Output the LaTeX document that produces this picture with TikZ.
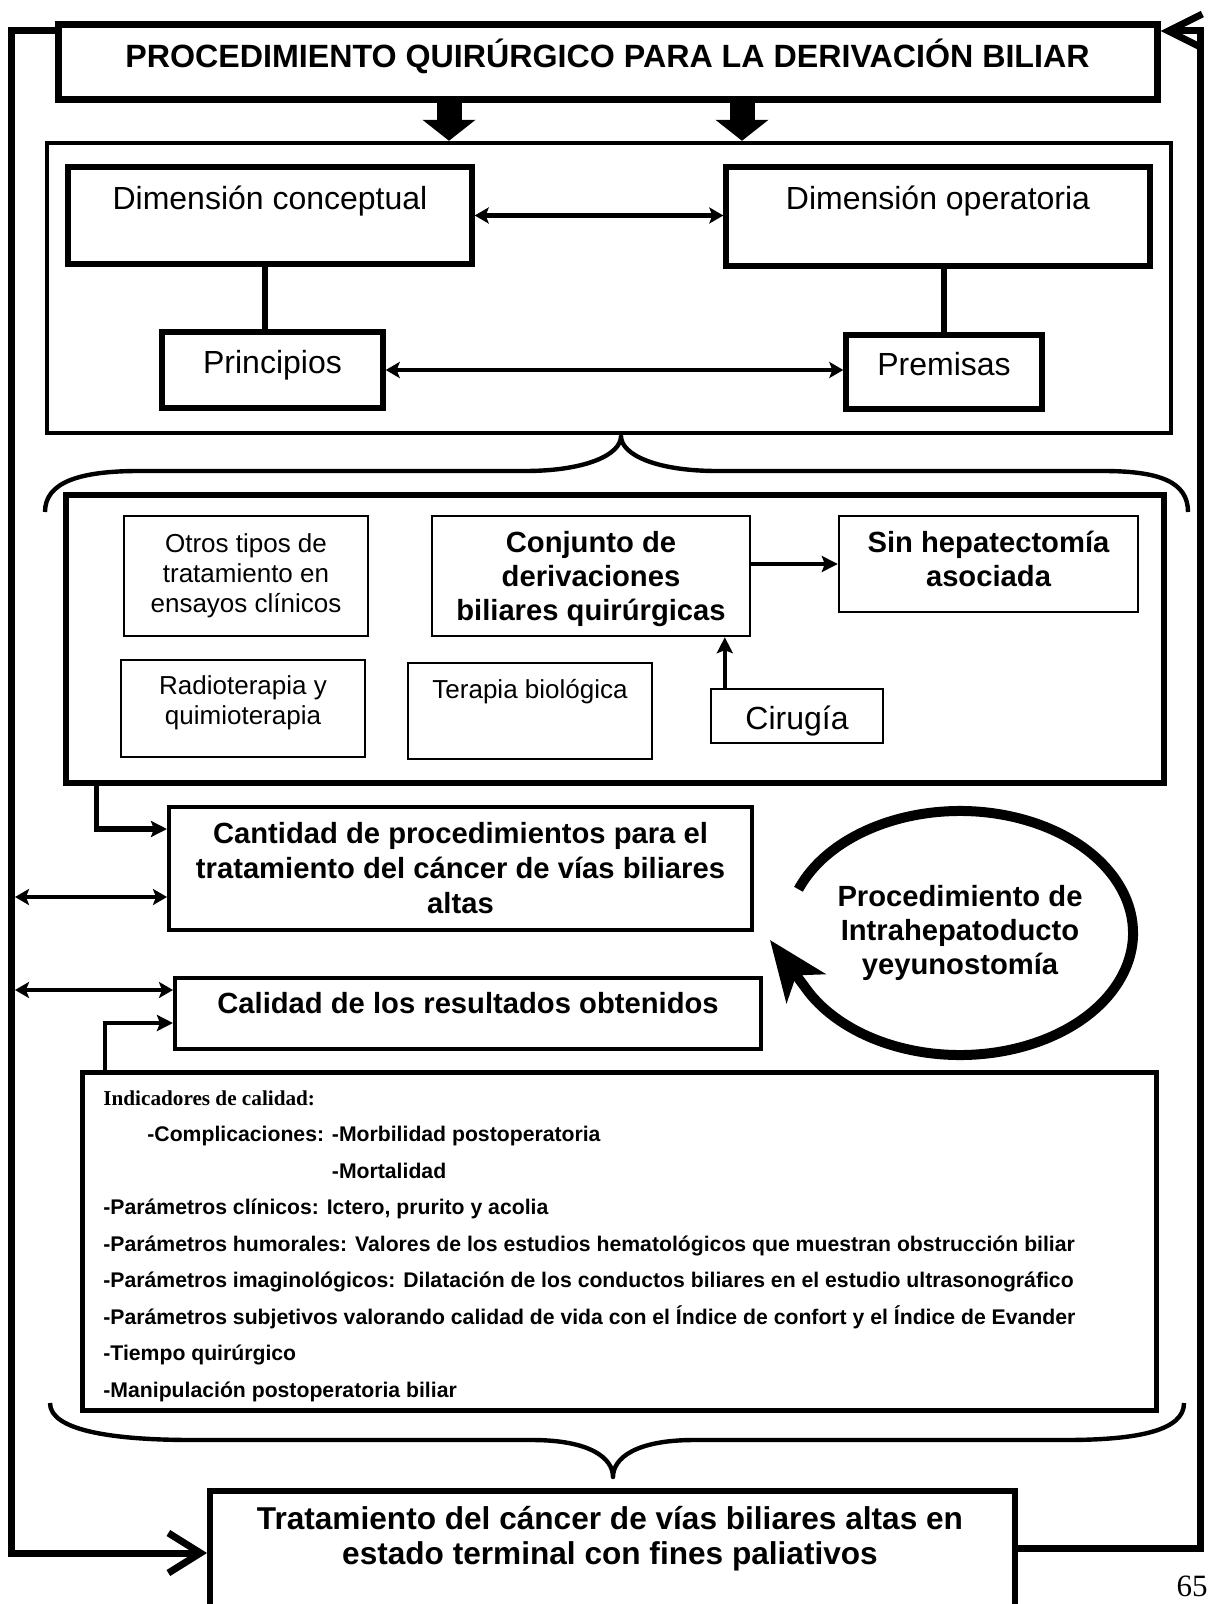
\documentclass[tikz,border=0pt]{standalone}
\usepackage{fontspec}
\setmainfont{Liberation Sans}
\newfontfamily\serifft{Liberation Serif}
\usetikzlibrary{arrows.meta, positioning, calc}

\begin{document}
\begin{tikzpicture}[
    x=0.5pt, y=-0.5pt,
    bx/.style={draw, line width=#1, inner sep=0pt, align=center},
    bx/.default=1pt,
    tbase/.style={text height=#1, text depth=0pt},
    tup/.style={text height=0pt, text depth=#1},
    titletxt/.style={font=\fontsize{16.1}{18}\selectfont\bfseries},
    bigtxt/.style={font=\fontsize{16}{19}\selectfont},
    plaintxt/.style={font=\fontsize{13}{15}\selectfont},
    boldtxt/.style={font=\fontsize{14.6}{#1}\selectfont\bfseries},
    boldtxt/.default=17,
    link/.style={line width=3pt},
    loopline/.style={line width=3.5pt, line join=miter},
    arrow/.style={-{Stealth[length=8pt, width=8pt, inset=1.5pt]}, line width=2pt},
    dblarrow/.style={{Stealth[length=7pt, width=8pt, inset=1.5pt]}-{Stealth[length=7pt, width=8pt, inset=1.5pt]}, line width=2.2pt},
    blockarrow/.style={-{Triangle[length=10.5pt, width=26pt]}, line width=12.5pt},
    circarrow/.style={-{Stealth[length=30pt, width=24pt, inset=8pt]}, line width=5pt},
    brace/.style={line width=2.2pt, line join=round}
]

\path[use as bounding box, fill=white] (0,0) rectangle (1210,1604);

% Title and dimensions
\node[bx=3.5pt, titletxt, tbase=5.5pt, minimum width=549.5pt, minimum height=37.5pt] (title) at (607.5,62.5) {PROCEDIMIENTO QUIRÚRGICO PARA LA DERIVACIÓN BILIAR};
\node[bx=2.2pt, minimum width=562pt, minimum height=145pt] (dims) at (609,288) {};
\node[bx=2.7pt, bigtxt, tup=5.5pt, minimum width=202pt, minimum height=48.5pt] (dimcon) at (270,215.5) {Dimensión conceptual};
\node[bx=2.7pt, bigtxt, tup=6.5pt, minimum width=212pt, minimum height=49.5pt] (dimope) at (938,216.5) {Dimensión operatoria};
\node[bx=2.7pt, bigtxt, tbase=4pt, minimum width=110.5pt, minimum height=38pt] (prin) at (272.5,370) {Principios};
\node[bx=2.7pt, bigtxt, tbase=4pt, minimum width=98pt, minimum height=37pt] (prem) at (944,372) {Premisas};

\draw[blockarrow] ([xshift=-79.25pt]title.south) -- ([xshift=-79.25pt]title.south |- dims.north);
\draw[blockarrow] ([xshift=67.25pt]title.south) -- ([xshift=67.25pt]title.south |- dims.north);
\draw[dblarrow] (dimcon.east) -- (dimcon.east -| dimope.west);
\draw[link] ([xshift=-2.5pt]dimcon.south) -- ([xshift=-2.5pt]dimcon.south |- prin.north);
\draw[link] (prem.north |- dimope.south) -- (prem.north);
\draw[dblarrow] (prin.east) -- (prin.east -| prem.west);

% Upper brace
\draw[brace] (45,512) .. controls (45,482) and (80,471) .. (139,471)
  -- (525,471) .. controls (585,471) and (621,455) .. (621,436)
  .. controls (621,455) and (657,471) .. (717,471)
  -- (1103,471) .. controls (1160,471) and (1188,482) .. (1188,512);

% Treatments
\node[bx=2.7pt, minimum width=549pt, minimum height=144pt] (trats) at (615,639) {};
\node[bx, plaintxt, minimum width=122pt, minimum height=60pt] (otros) at (246,576) {Otros tipos de\\tratamiento en\\ensayos clínicos};
\node[bx=1.2pt, boldtxt, text depth=0pt, minimum width=159pt, minimum height=60pt] (conj) at (591,576) {Conjunto de\\derivaciones\\biliares quirúrgicas};
\node[bx=1.2pt, boldtxt, text depth=5pt, minimum width=149.5pt, minimum height=48pt] (sinhep) at (988.5,564) {Sin hepatectomía\\asociada};
\node[bx, plaintxt, text depth=8.7pt, minimum width=122pt, minimum height=48.5pt] (radio) at (243,708.5) {Radioterapia y\\quimioterapia};
\node[bx, plaintxt, tup=13pt, minimum width=122pt, minimum height=48pt] (terapia) at (530,711) {Terapia biológica};
\node[bx=1.2pt, bigtxt, tbase=13.3pt, minimum width=86pt, minimum height=27pt] (cir) at (797,716) {Cirugía};

\draw[arrow] (conj.east |- sinhep.west) -- (sinhep.west);
\draw[arrow] ([xshift=7.5pt]cir.north west) -- ([xshift=7.5pt]cir.north west |- conj.south);

% Results
\node[bx=2pt, boldtxt=17.5, minimum width=291.5pt, minimum height=61.5pt] (cant) at (460.5,868.5) {Cantidad de procedimientos para el\\tratamiento del cáncer de vías biliares\\altas};
\node[bx=2pt, boldtxt, tbase=0pt, minimum width=293pt, minimum height=35.5pt] (cal) at (468,1013.5) {Calidad de los resultados obtenidos};
\draw[arrow, line width=2.6pt] ([xshift=16.5pt]trats.south west) |- ([yshift=-12pt]cant.north west);

% Cycle
\node[boldtxt, align=center] (proc) at (960,933) {Procedimiento de\\Intrahepatoducto\\yeyunostomía};
\coordinate (proctip) at (770,940);
\draw[circarrow] ([shift={(201:173 and 122)}]proc.center) arc[start angle=201, end angle=511, x radius=173, y radius=122] -- (proctip);

% Indicators
\node[bx=2.5pt, minimum width=537pt, minimum height=169pt] (indic) at (619,1241) {};
\node[font=\fontsize{10.6}{18.25}\selectfont\bfseries, align=left, inner sep=0pt, anchor=north west] (indtext) at (103,1090) {%
{\serifft Indicadores de calidad:}\\
\hspace*{22pt}-Complicaciones: -Morbilidad postoperatoria\\
\hspace*{22pt}\phantom{-Complicaciones: }-Mortalidad\\
-Parámetros clínicos: Ictero, prurito y acolia\\
-Parámetros humorales: Valores de los estudios hematológicos que muestran obstrucción biliar\\
-Parámetros imaginológicos: Dilatación de los conductos biliares en el estudio ultrasonográfico\\
-Parámetros subjetivos valorando calidad de vida con el Índice de confort y el Índice de Evander\\
-Tiempo quirúrgico\\
-Manipulación postoperatoria biliar};
\draw[arrow] ([xshift=12.5pt]indic.north west) |- ([yshift=-23.5pt]cal.north west);

% Lower brace
\draw[brace] (50,1403) .. controls (50,1430) and (110,1440) .. (193,1440)
  -- (532,1440) .. controls (590,1440) and (613,1458) .. (613,1477)
  .. controls (613,1458) and (636,1440) .. (694,1440)
  -- (1065,1440) .. controls (1140,1440) and (1184,1430) .. (1184,1403);

% Final box
\node[bx=3.2pt, minimum width=402.5pt, minimum height=85pt, anchor=north west] (fin) at (207,1488) {};
\node[font=\fontsize{15.8}{17.5}\selectfont\bfseries, align=center] (fintext) at (610,1539) {Tratamiento del cáncer de vías biliares altas en\\estado terminal con fines paliativos};

% Outer loop
\coordinate (ltop) at (11,31);
\coordinate (lbot) at (11,1553);
\coordinate (rtop) at (1200,31);
\coordinate (rbot) at (1200,1548);
\coordinate (lcant) at (15,897);
\coordinate (lcal) at (15,990);
\draw[loopline, -{Straight Barb[length=16pt, width=20pt]}] (ltop -| title.west) -- (ltop) -- (lbot) -- (lbot -| fin.west);
\draw[loopline, -{Straight Barb[length=17pt, width=17pt]}] (rbot -| fin.east) -- (rbot) -- (rtop) -- (rtop -| title.east);
\draw[dblarrow] (lcant) -- (lcant -| cant.west);
\draw[dblarrow] (lcal) -- (lcal -| cal.west);

\node[font=\serifft\fontsize{15.5}{18}\selectfont, anchor=base] (pagenum) at (1192,1596) {65};

\end{tikzpicture}
\end{document}
